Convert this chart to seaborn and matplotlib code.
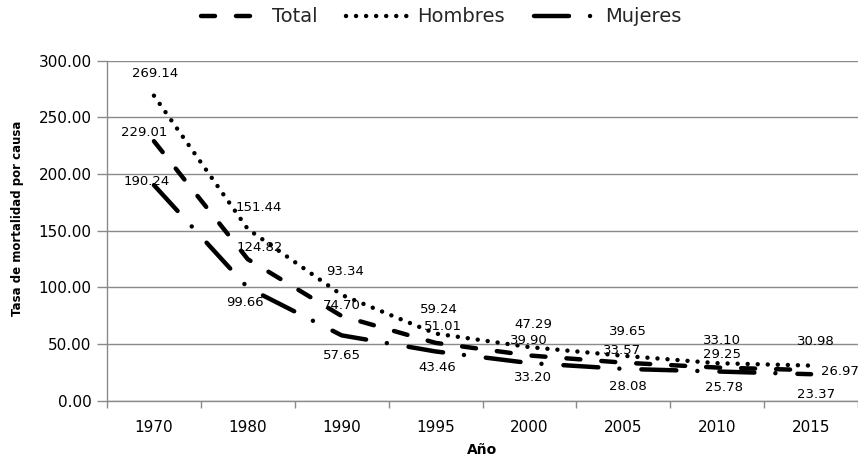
import matplotlib
matplotlib.use("Agg")
import matplotlib.pyplot as plt
import seaborn as sns
import pandas as pd
from matplotlib.ticker import FixedLocator, FormatStrFormatter

# ---------------- data ----------------
years = ["1970", "1980", "1990", "1995", "2000", "2005", "2010", "2015"]
total = [229.01, 124.82, 74.70, 51.01, 39.90, 33.57, 29.25, 26.97]
hombres = [269.14, 151.44, 93.34, 59.24, 47.29, 39.65, 33.10, 30.98]
mujeres = [190.24, 99.66, 57.65, 43.46, 33.20, 28.08, 25.78, 23.37]
series_names = ["Total", "Hombres", "Mujeres"]
y_ticks = [0, 50, 100, 150, 200, 250, 300]

# label offsets (pixels, dx right, dy down) for each value label
off_total = [(-10, -9), (12, -12), (0, -11), (7, -16), (-1, -15), (-1, -12), (5, -13), (29, 1)]
off_hombres = [(1, -22), (11, -22), (3, -23), (3, -24), (4, -23), (5, -24), (5, -23), (5, -24)]
off_mujeres = [(-7, -4), (-3, 15), (0, 20), (2, 16), (4, 14), (5, 18), (7, 16), (5, 20)]

df = pd.DataFrame({
    "Año": years * 3,
    "Tasa": total + hombres + mujeres,
    "Serie": sum([[s] * len(years) for s in series_names], []),
})

# ---------------- style ----------------
sns.set_theme(style="white")
plt.rcParams["font.family"] = ["DejaVu Sans"]
GRAY = "#8a8a8a"

fig = plt.figure(figsize=(8.58, 4.61), dpi=100)
ax = fig.add_axes([107 / 858, (461 - 400.7) / 461, 751 / 858, 340 / 461])

LW = 3.2
lwpx = LW / 0.72
dashes = {
    "Total": (14 / lwpx, 21 / lwpx),
    "Hombres": (0.01, 10 / lwpx),
    "Mujeres": (35 / lwpx, 21 / lwpx, 0.01, 22 / lwpx),
}
palette = {s: "black" for s in series_names}

sns.lineplot(data=df, x="Año", y="Tasa", hue="Serie", style="Serie",
             hue_order=series_names, style_order=series_names,
             palette=palette, dashes=dashes, linewidth=LW,
             dash_capstyle="round", solid_capstyle="round",
             legend=False, ax=ax, sort=False)

# value labels
px2pt = 72 / 100
for vals, offs in [(total, off_total), (hombres, off_hombres), (mujeres, off_mujeres)]:
    for i, (v, (dx, dy)) in enumerate(zip(vals, offs)):
        ax.annotate(f"{v:.2f}", xy=(i, v), xytext=(dx * px2pt, -dy * px2pt),
                    textcoords="offset points", ha="center", va="center",
                    fontsize=9.5, color="black", annotation_clip=False)

# axes
ax.set_xlim(-0.5, len(years) - 0.5)
ax.set_ylim(0, 300)
ax.yaxis.set_major_locator(FixedLocator(y_ticks))
ax.yaxis.set_major_formatter(FormatStrFormatter("%.2f"))
ax.grid(axis="y", color=GRAY, linewidth=1.0)
ax.grid(axis="x", visible=False)
ax.set_axisbelow(True)
for s in ["top", "right"]:
    ax.spines[s].set_visible(False)
for s in ["left", "bottom"]:
    ax.spines[s].set_color(GRAY)
    ax.spines[s].set_linewidth(1.0)

ax.set_xticks(range(len(years)))
ax.set_xticklabels(years)
ax.set_xticks([i + 0.5 for i in range(-1, len(years))], minor=True)
ax.tick_params(axis="x", which="major", length=0, pad=14, labelsize=11, colors="black")
ax.tick_params(axis="x", which="minor", length=5, width=1, color=GRAY, direction="out", bottom=True)
ax.tick_params(axis="y", which="major", length=7, width=1, color=GRAY, direction="out",
               pad=4, labelsize=11, labelcolor="black", left=True)

ax.set_xlabel("Año", fontsize=10, fontweight="bold", color="black")
ax.xaxis.set_label_coords(0.5, -(450 - 400.7) / 340)
ax.xaxis.label.set_va("center")
ax.set_ylabel("Tasa de mortalidad por causa", fontsize=8.5, fontweight="bold", color="black")
ax.yaxis.set_label_coords((18 - 107) / 751, (400.7 - 218) / 340)
ax.yaxis.label.set_va("center")

# legend
handles = ax.get_lines()[:3]
fig.legend(handles, series_names, loc="center", bbox_to_anchor=(441 / 858, 1 - 17 / 461),
           ncol=3, frameon=False, fontsize=14, handlelength=3.2,
           handletextpad=0.45, columnspacing=1.5, borderaxespad=0, borderpad=0)

fig.savefig("out.png", dpi=100)
